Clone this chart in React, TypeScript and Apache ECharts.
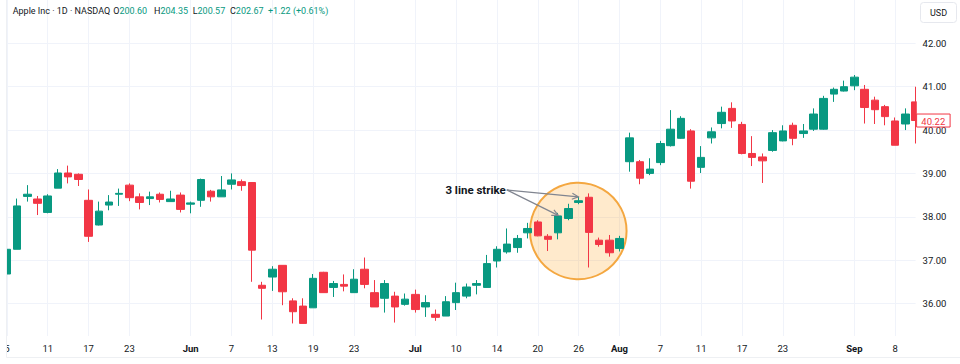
import React, { useEffect, useRef } from 'react';
import * as echarts from 'echarts';

// ---- data ----
const opens = [
  36.68, 37.25, 38.47, 38.41, 38.10, 38.66, 39.01, 38.98, 38.38, 37.81,
  38.27, 38.52, 38.73, 38.46, 38.42, 38.52, 38.35, 38.50, 38.29, 38.38,
  38.59, 38.46, 38.75, 38.81, 38.79, 36.42, 36.61, 36.88, 36.06, 35.94,
  35.90, 36.72, 36.37, 36.44, 36.25, 36.79, 36.25, 36.12, 36.17, 35.98,
  36.21, 35.92, 35.75, 35.71, 36.02, 36.17, 36.42, 36.37, 36.98, 37.19,
  37.29, 37.63, 37.88, 37.55, 37.63, 37.96, 38.33, 38.45, 37.46, 37.46,
  37.27, 39.27, 39.27, 39.00, 39.25, 39.64, 39.81, 39.98, 39.14, 39.82,
  40.15, 40.50, 40.13, 39.46, 39.38, 39.53, 39.75, 40.11, 39.92, 40.02,
  40.02, 40.83, 40.90, 41.02, 40.94, 40.69, 40.54, 40.21, 40.14, 40.65,
];
const closes = [
  37.25, 38.25, 38.52, 38.31, 38.48, 39.01, 38.92, 38.86, 37.55, 38.13,
  38.34, 38.54, 38.44, 38.33, 38.46, 38.40, 38.41, 38.17, 38.32, 38.86,
  38.46, 38.62, 38.85, 38.72, 37.23, 36.35, 36.79, 36.27, 35.81, 35.54,
  36.58, 36.25, 36.46, 36.40, 36.56, 36.44, 35.92, 36.46, 35.92, 36.10,
  35.86, 36.02, 35.68, 36.04, 36.25, 36.38, 36.46, 36.92, 37.25, 37.37,
  37.50, 37.73, 37.56, 37.48, 38.02, 38.19, 38.37, 37.64, 37.36, 37.17,
  37.50, 39.82, 38.89, 39.10, 39.69, 40.02, 40.27, 38.82, 39.37, 39.96,
  40.41, 40.21, 39.46, 39.37, 39.29, 39.94, 39.98, 39.81, 39.98, 40.37,
  40.73, 40.94, 41.00, 41.22, 40.52, 40.47, 40.31, 39.65, 40.37, 40.22,
];
const lows = [
  36.66, 37.25, 38.35, 38.04, 38.08, 38.66, 38.77, 38.71, 37.42, 37.80,
  38.15, 38.25, 38.36, 38.17, 38.27, 38.33, 38.35, 38.10, 38.08, 38.23,
  38.35, 38.46, 38.63, 38.60, 36.50, 35.63, 36.29, 35.96, 35.54, 35.54,
  35.90, 36.25, 36.15, 36.28, 36.25, 36.35, 35.92, 35.79, 35.56, 35.95,
  35.79, 35.69, 35.60, 35.71, 35.85, 36.12, 36.21, 36.37, 36.83, 37.15,
  37.17, 37.50, 37.55, 37.21, 37.48, 37.92, 38.29, 36.83, 37.31, 37.08,
  37.20, 39.04, 38.75, 38.96, 39.19, 39.62, 39.80, 38.65, 39.01, 39.69,
  40.04, 40.05, 39.44, 39.17, 38.78, 39.50, 39.74, 39.65, 39.82, 39.98,
  40.01, 40.65, 40.89, 40.92, 40.15, 40.14, 40.11, 39.65, 40.00, 39.69,
];
const highs = [
  37.27, 38.42, 38.73, 38.48, 38.52, 39.10, 39.18, 39.00, 38.63, 38.35,
  38.50, 38.65, 38.77, 38.54, 38.58, 38.56, 38.60, 38.56, 38.35, 38.88,
  38.62, 38.94, 39.00, 38.86, 38.80, 36.50, 36.86, 36.88, 36.12, 36.12,
  36.68, 36.73, 36.52, 36.67, 36.79, 37.06, 36.54, 36.54, 36.27, 36.23,
  36.32, 36.19, 35.86, 36.17, 36.48, 36.46, 36.54, 37.12, 37.32, 37.73,
  37.58, 37.86, 37.92, 37.60, 38.09, 38.30, 38.46, 38.54, 37.52, 37.58,
  37.56, 39.94, 39.31, 39.35, 39.75, 40.46, 40.32, 40.02, 39.63, 40.06,
  40.54, 40.64, 40.19, 39.86, 39.46, 40.00, 40.11, 40.17, 40.14, 40.50,
  40.79, 40.98, 41.14, 41.27, 41.04, 40.77, 40.58, 40.29, 40.50, 41.00,
];

const xTickIndex = [0, 4, 8, 12, 18, 22, 26, 30, 34, 40, 44, 48, 52, 56, 60, 64, 68, 72, 76, 83, 87];
const xTickText = ['5', '11', '17', '23', 'Jun', '7', '13', '19', '23', 'Jul', '10', '14', '20', '26', 'Aug', '7', '11', '17', '23', 'Sep', '8'];
const monthNames = ['Jun', 'Jul', 'Aug', 'Sep'];
const yTicks = [36, 37, 38, 39, 40, 41, 42];
const lastPrice = 40.22;

const titleText = 'Apple Inc · 1D · NASDAQ';
const ohlcKeys = ['O', 'H', 'L', 'C'];
const ohlcVals = ['200.60', '204.35', '200.57', '202.67'];
const changeText = '+1.22 (+0.61%)';
const currencyText = 'USD';
const patternText = '3 line strike';
const patternBars = [54, 56];

const UP = '#089981';
const DOWN = '#f23645';
const TEXT = '#131722';
const GRID = '#f0f3fa';
const FONT = 'Roboto, "Noto Sans", sans-serif';

const categories = opens.map((_, i) => String(i));
const labelByIndex: Record<number, string> = {};
xTickIndex.forEach((ix, k) => { labelByIndex[ix] = xTickText[k]; });
const isTick = (i: number) => labelByIndex[i] !== undefined;

function arrowHead(fx: number, fy: number, tx: number, ty: number, len = 7, ang = Math.PI / 7) {
  const a = Math.atan2(ty - fy, tx - fx);
  return [
    [tx - len * Math.cos(a - ang), ty - len * Math.sin(a - ang)],
    [tx, ty],
    [tx - len * Math.cos(a + ang), ty - len * Math.sin(a + ang)],
  ];
}

export default function App() {
  const ref = useRef<HTMLDivElement>(null);

  useEffect(() => {
    if (!ref.current) return;
    const chart = echarts.init(ref.current, undefined, { renderer: 'svg' });
    chart.setOption({
      animation: false,
      backgroundColor: '#ffffff',
      grid: { left: 6.9, right: 44.4, top: 0, bottom: 28, containLabel: false, outerBoundsMode: 'none' },
      xAxis: {
        type: 'category',
        data: categories,
        boundaryGap: false,
        axisLine: { show: false },
        axisTick: { show: false, interval: (i: number) => isTick(i) },
        axisLabel: {
          interval: (i: number) => isTick(i),
          showMinLabel: true,
          hideOverlap: false,
          margin: 7,
          color: TEXT,
          fontSize: 9.5,
          fontFamily: FONT,
          formatter: (_v: string, i: number) => {
            const t = labelByIndex[i] ?? '';
            return monthNames.includes(t) ? `{b|${t}}` : t;
          },
          rich: { b: { fontWeight: 'bold', fontSize: 9.5, color: TEXT, fontFamily: FONT } },
        },
        splitLine: { show: true, interval: (i: number) => isTick(i), lineStyle: { color: GRID, width: 1 } },
      },
      yAxis: {
        type: 'value',
        position: 'right',
        min: 35.25,
        max: 43,
        scale: true,
        axisLine: { show: false },
        axisTick: { show: false, customValues: yTicks },
        axisLabel: {
          customValues: yTicks,
          formatter: (v: number) => v.toFixed(2),
          color: TEXT,
          fontSize: 9.5,
          fontFamily: FONT,
          margin: 7,
        },
        splitLine: { show: true, lineStyle: { color: GRID, width: 1 } },
      },
      series: [
        {
          type: 'candlestick',
          data: opens.map((o, i) => [o, closes[i], lows[i], highs[i]]),
          barWidth: 8,
          clip: true,
          itemStyle: { color: UP, color0: DOWN, borderColor: UP, borderColor0: DOWN, borderWidth: 1 },
        },
      ],
    });

    const p1 = chart.convertToPixel({ gridIndex: 0 }, [patternBars[0], closes[patternBars[0]]]) as number[];
    const p2 = chart.convertToPixel({ gridIndex: 0 }, [patternBars[1], highs[patternBars[1]]]) as number[];
    const pc = chart.convertToPixel({ gridIndex: 0 }, [patternBars[1], (highs[57] + lows[57]) / 2]) as number[];
    const pl = chart.convertToPixel({ gridIndex: 0 }, [opens.length - 1, lastPrice]) as number[];
    const tip1 = [p1[0], p1[1] - 0.5];
    const tip2 = [p2[0] - 0.3, p2[1]];
    const textY = tip1[1] - 25;
    const textRight = tip1[0] - 52.5;
    const start = [textRight + 1, textY - 0.5];
    const cx = pc[0] - 0.4;
    const cy = pc[1] + 0.5;
    const plotRight = 960 - 44.4;

    const headerItems: any[] = [
      {
        type: 'text', x: 12.7, y: 10.7, z: 30,
        style: { text: titleText, fill: TEXT, font: `9px ${FONT}`, verticalAlign: 'middle' },
      },
    ];
    const ohlcX = [113.3, 154, 192.7, 230];
    ohlcKeys.forEach((k, i) => {
      headerItems.push({
        type: 'text', x: ohlcX[i], y: 10.7, z: 30,
        style: {
          text: `{k|${k}}{v|${ohlcVals[i]}}`,
          verticalAlign: 'middle',
          rich: {
            k: { fill: TEXT, fontSize: 9, fontFamily: FONT },
            v: { fill: UP, fontSize: 9, fontFamily: FONT },
          },
        },
      });
    });
    headerItems.push({
      type: 'text', x: 268, y: 10.7, z: 30,
      style: { text: changeText, fill: UP, font: `9px ${FONT}`, verticalAlign: 'middle' },
    });

    chart.setOption({
      graphic: [
        // clipping masks at the plot edges
        {
          type: 'rect', z: 20,
          shape: { x: 0, y: 0, width: 6, height: 357 },
          style: { fill: '#ffffff' },
        },
        {
          type: 'rect', z: 20,
          shape: { x: plotRight + 1.2, y: 24, width: 5, height: 312 },
          style: { fill: '#ffffff' },
        },
        {
          type: 'line', z: 21,
          shape: { x1: 6.5, y1: 0, x2: 6.5, y2: 357.5 },
          style: { stroke: '#eef0f3', lineWidth: 1 },
        },
        {
          type: 'line', z: 21,
          shape: { x1: 6.5, y1: 357.5, x2: 960, y2: 357.5 },
          style: { stroke: '#eef0f3', lineWidth: 1 },
        },
        ...headerItems,
        {
          type: 'rect', z: 22,
          shape: { x: 920.5, y: 2.5, width: 36, height: 20, r: 3 },
          style: { fill: '#ffffff', stroke: '#e6e8ee', lineWidth: 1 },
        },
        {
          type: 'text', z: 23, x: 938.5, y: 12.5,
          style: { text: currencyText, fill: TEXT, font: `9px ${FONT}`, align: 'center', verticalAlign: 'middle' },
        },
        // last price tag
        {
          type: 'rect', z: 24,
          shape: { x: plotRight + 1, y: pl[1] - 6.5, width: 33.5, height: 13 },
          style: { fill: '#ffffff', stroke: DOWN, lineWidth: 1 },
        },
        {
          type: 'text', z: 25, x: plotRight + 17.7, y: pl[1] + 0.5,
          style: { text: lastPrice.toFixed(2), fill: DOWN, font: `9.5px ${FONT}`, align: 'center', verticalAlign: 'middle' },
        },
        // pattern annotation
        {
          type: 'circle', z: 1,
          shape: { cx, cy, r: 48.3 },
          style: { fill: 'rgba(255,152,0,0.2)', stroke: '#f4a740', lineWidth: 2 },
        },
        {
          type: 'text', z: 10, x: textRight, y: textY,
          style: { text: patternText, fill: TEXT, font: `bold 11.5px ${FONT}`, align: 'right', verticalAlign: 'middle' },
        },
        {
          type: 'line', z: 10,
          shape: { x1: start[0], y1: start[1], x2: tip1[0], y2: tip1[1] },
          style: { stroke: '#808590', lineWidth: 1.2 },
        },
        {
          type: 'line', z: 10,
          shape: { x1: start[0], y1: start[1], x2: tip2[0], y2: tip2[1] },
          style: { stroke: '#808590', lineWidth: 1.2 },
        },
        {
          type: 'polyline', z: 10,
          shape: { points: arrowHead(start[0], start[1], tip1[0], tip1[1]) },
          style: { stroke: '#808590', lineWidth: 1.2, fill: 'none' },
        },
        {
          type: 'polyline', z: 10,
          shape: { points: arrowHead(start[0], start[1], tip2[0], tip2[1]) },
          style: { stroke: '#808590', lineWidth: 1.2, fill: 'none' },
        },
      ],
    });

    return () => chart.dispose();
  }, []);

  return <div ref={ref} style={{ width: 960, height: 364, position: 'absolute', left: 0, top: 0 }} />;
}
